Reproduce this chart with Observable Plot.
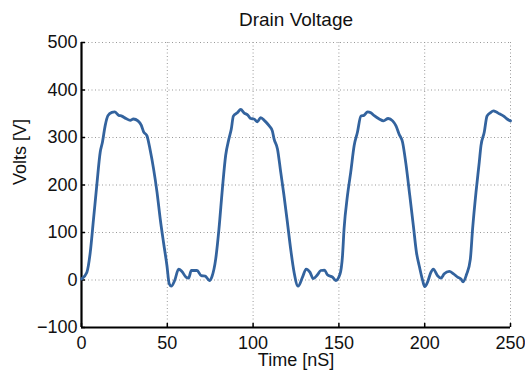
<!DOCTYPE html>
<html>
<head>
<meta charset="utf-8">
<script src="https://cdn.jsdelivr.net/npm/d3@7"></script>
<script src="https://cdn.jsdelivr.net/npm/@observablehq/plot@0.6"></script>
<style>
  html, body { margin: 0; padding: 0; background: #fff; }
  #chart { width: 525px; height: 372px; }
</style>
</head>
<body>
<div id="chart"></div>
<script>
const title = "Drain Voltage";
const xLabel = "Time [nS]";
const yLabel = "Volts [V]";
const xTicks = [0, 50, 100, 150, 200, 250];
const yTicks = [-100, 0, 100, 200, 300, 400, 500];

const timeNs = [
  0, 3.1, 5.1, 7.0, 8.9, 10.9, 12.2, 13.8, 15.4, 17.7, 19.3, 21.6, 23.5, 25.9, 28.4, 30.3, 32.9, 34.8, 36.2, 38.1,
  40.1, 42.0, 44.0, 45.9, 47.8, 49.8, 51.1, 52.3, 54.3, 56.6, 58.5, 60.9, 62.4, 64.0, 67.3, 69.8, 72.1, 74.5, 76.1,
  78.2, 80.1, 82.1, 84.0, 85.9, 87.3, 88.5, 90.8, 92.8, 94.7, 97.0, 98.6, 100.5, 102.5, 104.4, 106.8, 109.3, 111.2,
  112.2, 114.2, 116.1, 118.0, 120.0, 121.9, 123.9, 126.2, 128.8, 130.9, 133.2, 135.0, 137.5, 139.4, 141.6, 143.3,
  146.3, 148.2, 150.6, 152.1, 153.0, 155.0, 156.9, 158.9, 160.8, 162.8, 164.7, 166.7, 168.6, 170.6, 173.5, 176.0,
  178.7, 181.3, 183.2, 185.1, 187.1, 189.0, 191.3, 193.4, 195.2, 196.8, 198.8, 200.0, 201.6, 203.6, 205.0, 207.5,
  209.5, 211.4, 214.3, 216.8, 219.2, 221.1, 222.4, 224.4, 226.6, 227.9, 229.9, 231.8, 232.8, 234.7, 236.3, 238.2,
  240.2, 241.5, 243.5, 246.0, 248.0, 250.0
];
const volts = [
  2, 16, 58, 128, 199, 269, 290, 325, 346, 353, 354, 347, 345, 340, 336, 339, 335, 326, 312, 304,
  272, 234, 185, 128, 79, 30, -8, -13, -1, 23, 18, 6, 4, 20, 20, 9, 8, -1, 8,
  44, 107, 192, 262, 297, 318, 345, 352, 359, 352, 347, 340, 339, 333, 342, 335, 325, 314,
  297, 276, 227, 178, 121, 65, 16, -13, 6, 23, 16, 3, 11, 20, 21, 11,
  6, -1, 12, 51, 107, 178, 227, 283, 311, 345, 347, 354, 352, 346, 339, 335,
  340, 335, 325, 307, 290, 246, 178, 114, 58, 30, -1, -14, -5, 16, 23, 9,
  4, 13, 18, 13, 6, 2, -4, 12, 44, 107, 185, 248, 283, 311, 345, 352,
  356, 354, 350, 345, 339, 335
];

const data = timeNs.map((t, i) => ({t, v: volts[i]}));

const W = 525, H = 372;
const mL = 81, mR = 15, mT = 42, mB = 45;
const plotW = W - mL - mR, plotH = H - mT - mB;

const chart = Plot.plot({
  width: W,
  height: H,
  marginLeft: mL,
  marginRight: mR,
  marginTop: mT,
  marginBottom: mB,
  style: {fontFamily: "'Liberation Sans', Arial, Helvetica, sans-serif", fontSize: "18px", color: "#111", background: "#fff"},
  x: {domain: [0, 250], ticks: xTicks},
  y: {domain: [-100, 500], ticks: yTicks},
  marks: [
    Plot.gridX(xTicks, {stroke: "#999", strokeOpacity: 1, strokeDasharray: "1,2.5"}),
    Plot.gridY(yTicks, {stroke: "#999", strokeOpacity: 1, strokeDasharray: "1,2.5"}),
    Plot.axisX(xTicks, {tickSize: 0, tickPadding: 9, label: null, fontSize: 18}),
    Plot.axisY(yTicks, {tickSize: 0, tickPadding: 4, label: null, fontSize: 18}),
    Plot.tickX(xTicks, {x: d => d, insetTop: plotH - 4, stroke: "#000", strokeWidth: 1.5}),
    Plot.tickY(yTicks, {y: d => d, insetRight: plotW - 4, stroke: "#000", strokeWidth: 1.5}),
    Plot.ruleY([-100], {stroke: "#000", strokeWidth: 2.2}),
    Plot.ruleX([0], {stroke: "#000", strokeWidth: 2.2}),
    Plot.line(data, {x: "t", y: "v", stroke: "#33639e", strokeWidth: 2.8, curve: "monotone-x"}),
    Plot.text([title], {frameAnchor: "top", dy: -23, lineAnchor: "middle", fontSize: 19, fill: "#111"}),
    Plot.text([xLabel], {frameAnchor: "bottom", dy: 26, lineAnchor: "top", fontSize: 18, fill: "#111"}),
    Plot.text([yLabel], {frameAnchor: "left", dx: -61, rotate: -90, lineAnchor: "middle", fontSize: 18, fill: "#111"})
  ]
});
document.getElementById("chart").appendChild(chart);
</script>
</body>
</html>
